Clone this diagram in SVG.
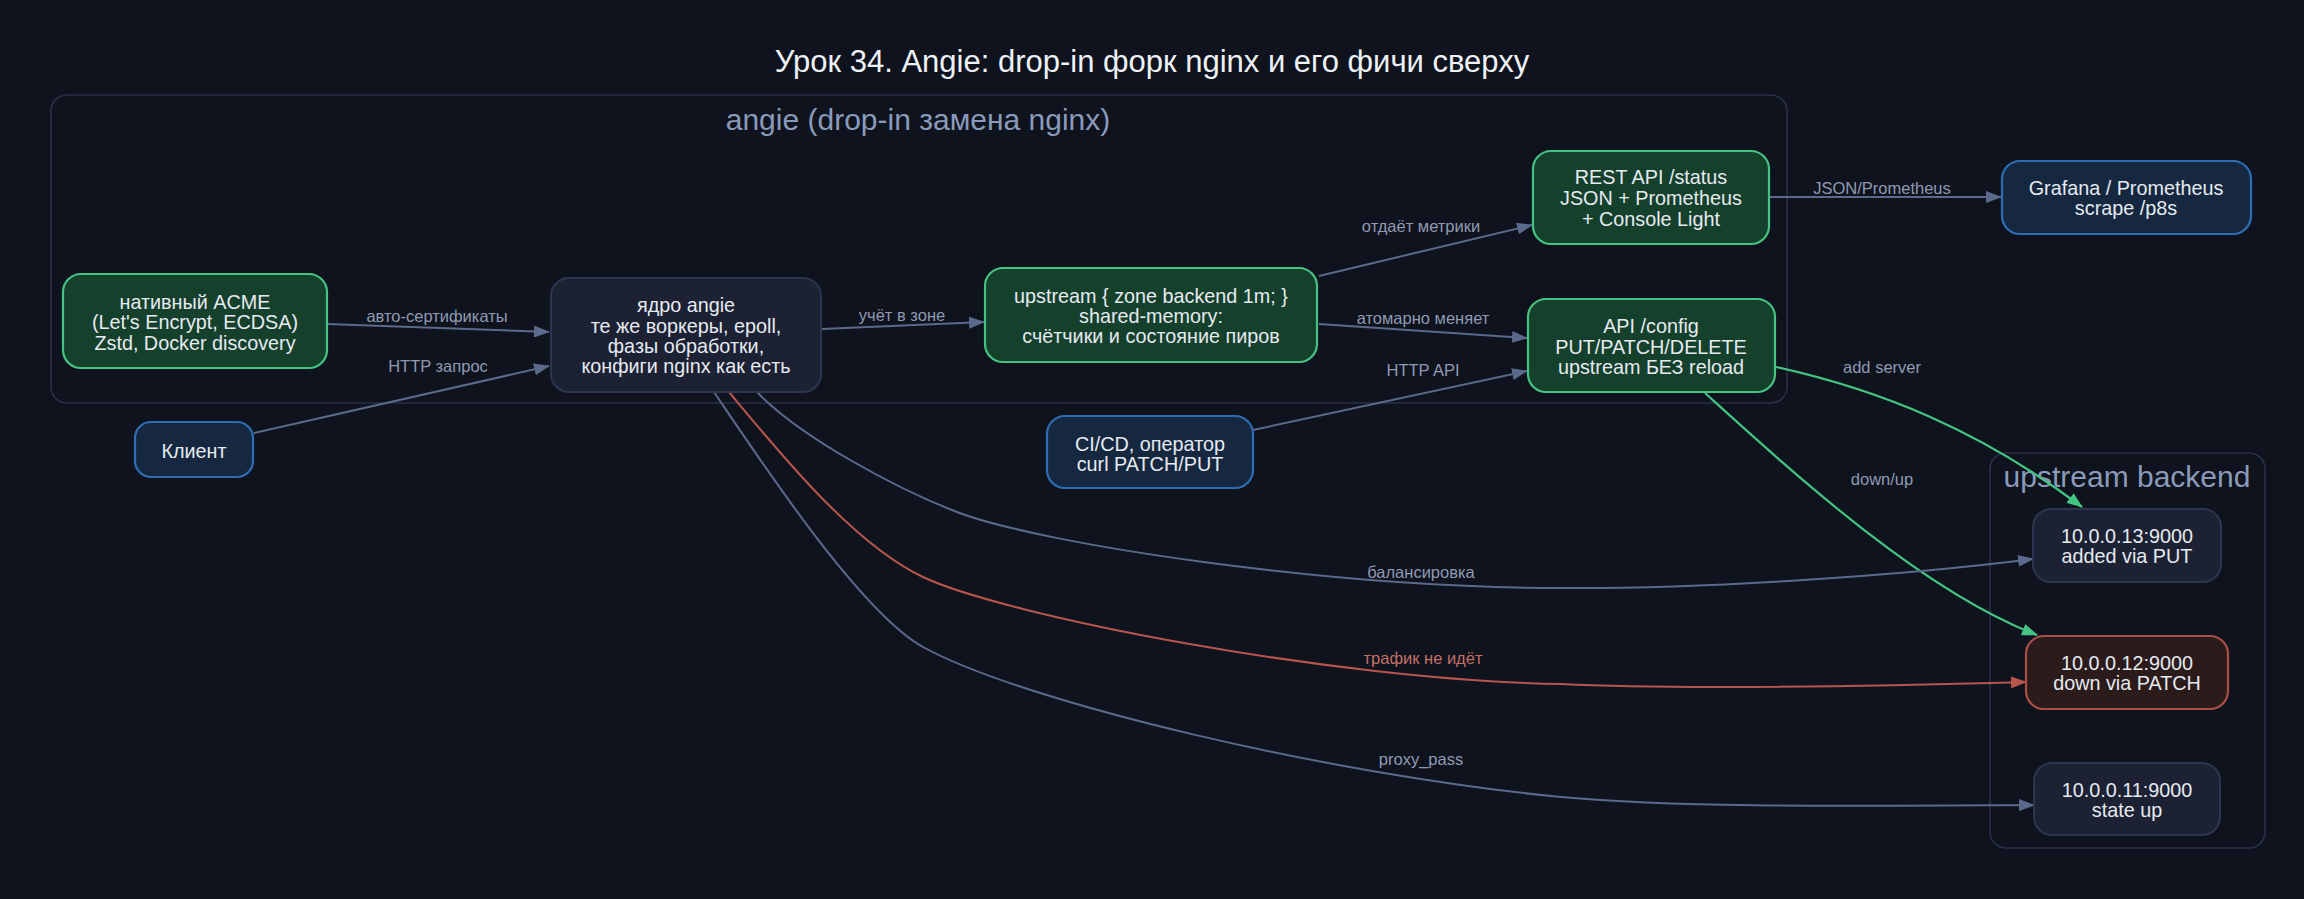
<svg xmlns="http://www.w3.org/2000/svg" width="2304" height="899" viewBox="0 0 2304 899">
<defs>
<style>
text{font-family:"Liberation Sans",Arial,sans-serif;text-anchor:middle}
.nt{font-size:19.8px;fill:#e6eaf1}
.el{font-size:16.5px;fill:#8e9ab3}
.elr{font-size:16.5px;fill:#c46f66}
.cl{fill:none;stroke:#283149;stroke-width:1.6}
.clt{font-size:30px;fill:#8a9abb}
.core{fill:#1c2233;stroke:#2c3650;stroke-width:2}
.grn{fill:#15402c;stroke:#46c283;stroke-width:2.2}
.blu{fill:#152840;stroke:#2e6db3;stroke-width:2.2}
.red{fill:#2b1b1b;stroke:#a94f47;stroke-width:2.2}
.e{fill:none;stroke:#5b6a8c;stroke-width:2}
.er{fill:none;stroke:#b8564d;stroke-width:2}
.eg{fill:none;stroke:#45c383;stroke-width:2.2}
</style>
<marker id="ag" markerUnits="userSpaceOnUse" markerWidth="16" markerHeight="12" refX="15" refY="6" orient="auto"><path d="M0,0 L16,6 L0,12 z" fill="#5b6a8c"/></marker>
<marker id="ar" markerUnits="userSpaceOnUse" markerWidth="16" markerHeight="12" refX="15" refY="6" orient="auto"><path d="M0,0 L16,6 L0,12 z" fill="#b8564d"/></marker>
<marker id="agr" markerUnits="userSpaceOnUse" markerWidth="16" markerHeight="12" refX="15" refY="6" orient="auto"><path d="M0,0 L16,6 L0,12 z" fill="#45c383"/></marker>
</defs>
<rect x="0" y="0" width="2304" height="899" fill="#0f131d"/>
<text x="1152" y="72" style="font-size:31px;fill:#eef1f6">Урок 34. Angie: drop-in форк nginx и его фичи сверху</text>

<g id="cluster-angie">
<rect class="cl" x="51" y="95" width="1736" height="308" rx="16"/>
<text class="clt" x="918" y="130">angie (drop-in замена nginx)</text>
</g>
<g id="cluster-upstream">
<rect class="cl" x="1990" y="453" width="275" height="395" rx="16"/>
<text class="clt" x="2127" y="487">upstream backend</text>
</g>

<g id="edges">
<path class="e" d="M327,324 L549,332" marker-end="url(#ag)"/>
<text class="el" x="437" y="322">авто-сертификаты</text>
<path class="e" d="M254,433 L549,366" marker-end="url(#ag)"/>
<text class="el" x="438" y="372">HTTP запрос</text>
<path class="e" d="M822,329 L984,322" marker-end="url(#ag)"/>
<text class="el" x="902" y="321">учёт в зоне</text>
<path class="e" d="M1319,276 L1532,225" marker-end="url(#ag)"/>
<text class="el" x="1421" y="232">отдаёт метрики</text>
<path class="e" d="M1319,324 L1527,338" marker-end="url(#ag)"/>
<text class="el" x="1423" y="324">атомарно меняет</text>
<path class="e" d="M1253,430 L1527,371" marker-end="url(#ag)"/>
<text class="el" x="1423" y="376">HTTP API</text>
<path class="e" d="M1769,197 L2001,197" marker-end="url(#ag)"/>
<text class="el" x="1882" y="194">JSON/Prometheus</text>
<path class="eg" d="M1776,367 C1880,390 1980,430 2082,507" marker-end="url(#agr)"/>
<text class="el" x="1882" y="373">add server</text>
<path class="eg" d="M1705,393 C1790,470 1920,590 2037,635" marker-end="url(#agr)"/>
<text class="el" x="1882" y="485">down/up</text>
<path class="e" d="M757,392 C800,437 897,489 957,512 C1040,544 1330,588 1561,588 C1700,589 1900,576 2033,559" marker-end="url(#ag)"/>
<text class="el" x="1421" y="578">балансировка</text>
<path class="er" d="M729,392 C779,452 853,544 923,577 C1003,615 1330,680 1561,684 C1680,690 1880,686 2026,682" marker-end="url(#ar)"/>
<text class="elr" x="1423" y="664">трафик не идёт</text>
<path class="e" d="M714,392 C760,460 860,612 923,647 C1023,702 1330,775 1561,797 C1680,808 1850,806 2034,805" marker-end="url(#ag)"/>
<text class="el" x="1421" y="765">proxy_pass</text>
</g>

<g id="node-acme">
<rect class="grn" x="63" y="274" width="264" height="94" rx="18"/>
<text class="nt" x="195" y="309">нативный ACME</text>
<text class="nt" x="195" y="329">(Let's Encrypt, ECDSA)</text>
<text class="nt" x="195" y="350">Zstd, Docker discovery</text>
</g>
<g id="node-core">
<rect class="core" x="551" y="278" width="270" height="114" rx="18"/>
<text class="nt" x="686" y="312">ядро angie</text>
<text class="nt" x="686" y="333">те же воркеры, epoll,</text>
<text class="nt" x="686" y="353">фазы обработки,</text>
<text class="nt" x="686" y="373">конфиги nginx как есть</text>
</g>
<g id="node-zone">
<rect class="grn" x="985" y="268" width="332" height="94" rx="18"/>
<text class="nt" x="1151" y="303">upstream { zone backend 1m; }</text>
<text class="nt" x="1151" y="323">shared-memory:</text>
<text class="nt" x="1151" y="343">счётчики и состояние пиров</text>
</g>
<g id="node-status">
<rect class="grn" x="1533" y="151" width="236" height="93" rx="18"/>
<text class="nt" x="1651" y="184">REST API /status</text>
<text class="nt" x="1651" y="205">JSON + Prometheus</text>
<text class="nt" x="1651" y="226">+ Console Light</text>
</g>
<g id="node-config">
<rect class="grn" x="1528" y="299" width="247" height="93" rx="18"/>
<text class="nt" x="1651" y="333">API /config</text>
<text class="nt" x="1651" y="354">PUT/PATCH/DELETE</text>
<text class="nt" x="1651" y="374">upstream БЕЗ reload</text>
</g>
<g id="node-grafana">
<rect class="blu" x="2002" y="161" width="249" height="73" rx="18"/>
<text class="nt" x="2126" y="195">Grafana / Prometheus</text>
<text class="nt" x="2126" y="215">scrape /p8s</text>
</g>
<g id="node-client">
<rect class="blu" x="135" y="422" width="118" height="55" rx="16"/>
<text class="nt" x="194" y="458">Клиент</text>
</g>
<g id="node-cicd">
<rect class="blu" x="1047" y="416" width="206" height="72" rx="18"/>
<text class="nt" x="1150" y="451">CI/CD, оператор</text>
<text class="nt" x="1150" y="471">curl PATCH/PUT</text>
</g>
<g id="node-b13">
<rect class="core" x="2033" y="509" width="188" height="73" rx="18"/>
<text class="nt" x="2127" y="543">10.0.0.13:9000</text>
<text class="nt" x="2127" y="563">added via PUT</text>
</g>
<g id="node-b12">
<rect class="red" x="2026" y="636" width="202" height="73" rx="18"/>
<text class="nt" x="2127" y="670">10.0.0.12:9000</text>
<text class="nt" x="2127" y="690">down via PATCH</text>
</g>
<g id="node-b11">
<rect class="core" x="2034" y="763" width="186" height="72" rx="18"/>
<text class="nt" x="2127" y="797">10.0.0.11:9000</text>
<text class="nt" x="2127" y="817">state up</text>
</g>
</svg>
